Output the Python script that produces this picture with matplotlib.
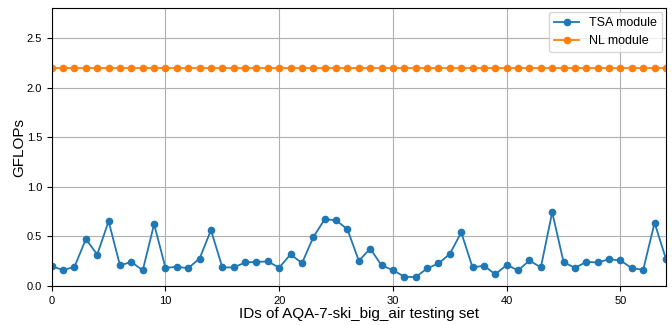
import matplotlib
matplotlib.use("Agg")
import matplotlib.pyplot as plt
import numpy as np

plt.rcParams['font.family'] = ['Liberation Sans', 'DejaVu Sans']

tsa = [0.20, 0.16, 0.193, 0.473, 0.317, 0.653, 0.207, 0.243, 0.157, 0.623,
       0.183, 0.193, 0.18, 0.277, 0.563, 0.187, 0.187, 0.237, 0.243, 0.247,
       0.185, 0.32, 0.23, 0.493, 0.673, 0.663, 0.57, 0.253, 0.377, 0.207,
       0.16, 0.093, 0.09, 0.177, 0.227, 0.323, 0.54, 0.187, 0.205, 0.117,
       0.213, 0.157, 0.257, 0.187, 0.743, 0.24, 0.183, 0.243, 0.237, 0.27,
       0.257, 0.18, 0.163, 0.637, 0.273]
nl = [2.2] * len(tsa)
ids = list(range(len(tsa)))

fig = plt.figure(figsize=(6.72, 3.25), dpi=100)
ax = fig.add_axes([0.077, 0.12, 0.914, 0.855])
ax.plot(ids, tsa, marker='o', markersize=4.5, linewidth=1.3, color='#1f77b4', label='TSA module')
ax.plot(ids, nl, marker='o', markersize=4.5, linewidth=1.3, color='#ff7f0e', label='NL module')
ax.set_xlim(0, 54)
ax.set_ylim(0, 2.8)
ax.set_yticks([0, 0.5, 1.0, 1.5, 2.0, 2.5])
ax.set_xticks([0, 10, 20, 30, 40, 50])
ax.tick_params(labelsize=8)
ax.grid(True, color='#b0b0b0', linewidth=0.8)
ax.set_xlabel('IDs of AQA-7-ski_big_air testing set', fontsize=11, labelpad=1)
ax.set_ylabel('GFLOPs', fontsize=11, labelpad=0)
ax.legend(loc='upper right', fontsize=9, borderaxespad=0.3)
fig.savefig('out.png', dpi=100)
